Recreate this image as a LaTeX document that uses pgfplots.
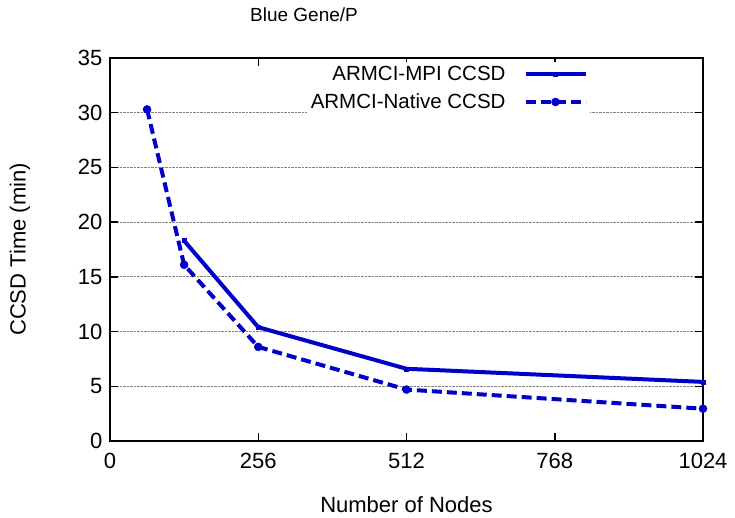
\documentclass[border=0pt]{standalone}
\usepackage{fontspec}
\setmainfont{Liberation Sans}
\usepackage{pgfplots}
\pgfplotsset{compat=1.18}
\definecolor{gblue}{RGB}{0,0,200}
\begin{document}
\begin{tikzpicture}
\useasboundingbox (-110pt,-77pt) rectangle (625pt,441pt);
\begin{axis}[
  at={(0pt,0pt)}, anchor=south west,
  scale only axis, width=593pt, height=383pt,
  xmin=0, xmax=1024, ymin=0, ymax=35,
  xtick={0,256,512,768,1024},
  ytick={0,5,10,15,20,25,30,35},
  tick align=inside, major tick length=8pt,
  tick style={line width=1.5pt, black},
  axis line style={line width=2.5pt},
  ymajorgrids,
  grid style={densely dotted, gray, line width=0.8pt},
  every tick label/.style={font=\fontsize{22}{26}\selectfont},
  /pgf/number format/assume math mode=true,
  /pgf/number format/1000 sep={},
  xticklabel style={yshift=-9pt},
  yticklabel style={xshift=-4pt},
  xlabel={Number of Nodes},
  ylabel={CCSD Time (min)},
  label style={font=\fontsize{22}{26}\selectfont},
  xlabel style={at={(axis description cs:0.5,0)}, anchor=center, yshift=-64pt},
  ylabel style={at={(axis description cs:0,0.5)}, anchor=center, yshift=90pt},
  legend style={at={(rel axis cs:0.809,0.99)}, anchor=north east, draw=none, fill=white,
    font=\fontsize{20.5}{24}\selectfont, inner sep=2pt, row sep=8pt},
  legend cell align=right,
  legend plot pos=right,
  legend image code/.code={\draw[mark repeat=2,mark phase=2] plot coordinates {(0pt,0pt)(30pt,0pt)(60pt,0pt)};},
]
\addplot[gblue, line width=4pt, mark=square*, mark size=2pt, mark options={solid, line width=0.5pt}]
  coordinates {(128,18.3) (256,10.4) (512,6.6) (1024,5.4)};
\addlegendentry{ARMCI-MPI CCSD\hspace*{16pt}}
\addplot[gblue, line width=4pt, dash pattern=on 10pt off 5pt, mark=*, mark size=4pt, mark options={solid, line width=0.5pt}]
  coordinates {(64,30.3) (128,16.1) (256,8.6) (512,4.7) (1024,2.95)};
\addlegendentry{ARMCI-Native CCSD\hspace*{16pt}}
\end{axis}
\node[anchor=center] at (194pt,426pt) {\fontsize{19}{23}\selectfont Blue Gene/P};
\end{tikzpicture}
\end{document}
